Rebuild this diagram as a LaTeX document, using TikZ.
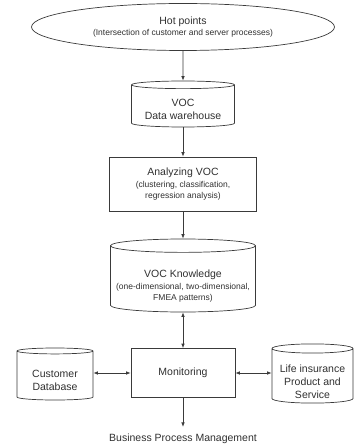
\documentclass[tikz,border=0pt]{standalone}
\usepackage{fontspec}
\setmainfont{Liberation Sans}
\usepackage{xcolor}
\definecolor{lineink}{HTML}{3A3A3A}
\definecolor{textink}{HTML}{303030}
\usetikzlibrary{positioning,arrows.meta,shapes.geometric}
\newcommand{\bigtxt}{\fontsize{10.5}{13}\selectfont}
\newcommand{\smalltxt}{\fontsize{8.5}{11.5}\selectfont}
% taller first line, so the text sits lower in a cylinder
\newcommand{\topgap}[1]{\rule{0pt}{#1pt}}

\begin{document}
\begin{tikzpicture}[x=1pt, y=-1pt,
  base/.style={draw=lineink, line width=0.7pt, text=textink, align=center, font=\bigtxt, inner sep=0pt},
  store/.style={base, cylinder, shape border rotate=90, aspect=#1, anchor=shape center},
  procbox/.style={base, rectangle},
  flow/.style={draw=lineink, line width=0.7pt, -{Latex[length=4.5pt, width=3.5pt]}},
  dflow/.style={flow, {Latex[length=4.5pt, width=3.5pt]}-{Latex[length=4.5pt, width=3.5pt]}},
]
  \useasboundingbox (0,0) rectangle (354,446);
  % Hot points
  \node[base, ellipse, minimum width=303pt, minimum height=47pt] (hot) at (183,27)
    {Hot points\\[-2pt]{\smalltxt (Intersection of customer and server processes)}};
  % Warehouse and analysis
  \node[store=0.1, minimum width=103pt, minimum height=46pt] (dw) at (183,104)
    {\topgap{14}VOC\\Data warehouse};
  \node[procbox, minimum width=147pt, minimum height=54pt] (ana) at (183,184)
    {Analyzing VOC\\[-1pt]{\smalltxt (clustering, classification,}\\[-2pt]{\smalltxt regression analysis)}};
  \node[store=0.1, minimum width=145pt, minimum height=73pt] (know) at (183,275.5)
    {\topgap{22}VOC Knowledge\\[-1pt]{\smalltxt (one-dimensional, two-dimensional,}\\[-2pt]{\smalltxt FMEA patterns)}};
  % Monitoring row
  \node[procbox, minimum width=104pt, minimum height=49pt] (mon) at (183,373) {Monitoring};
  \node[store=0.13, minimum width=76pt, minimum height=52pt] (cust) at (55,374)
    {\topgap{16}Customer\\Database};
  \node[store=0.14, minimum width=81pt, minimum height=59pt] (life) at (312.5,373.5)
    {\topgap{19}Life insurance\\Product and\\Service};
  \node[inner sep=7pt, text=textink, font=\bigtxt] (bpm) at (183,439) {Business Process Management};
  % Connectors
  \draw[flow] (hot) -- (dw);
  \draw[flow] (dw) -- (ana);
  \draw[flow] (ana) -- (know);
  \draw[dflow] (know) -- (mon);
  \draw[dflow] (mon.west -| cust.east) -- (mon.west);
  \draw[dflow] (mon.east) -- (mon.east -| life.west);
  \draw[flow] (mon) -- (bpm);
\end{tikzpicture}
\end{document}
